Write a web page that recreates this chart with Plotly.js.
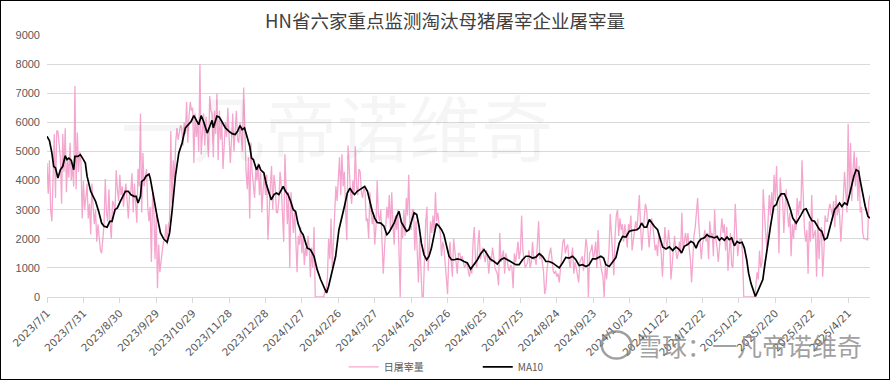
<!DOCTYPE html>
<html><head><meta charset="utf-8">
<script src="https://cdn.plot.ly/plotly-3.0.1.min.js"></script>
<style>body{margin:0;background:#fff;} #chart{width:888px;height:378px;border:1px solid #000;}</style>
</head><body><div id="chart"></div>
<script>
const startDate = '2023-07-01';
const seriesNames = ['日屠宰量', 'MA10'];
// daily slaughter volume, one value per consecutive day from startDate
const daily = [
4600,3550,4700,3000,2600,4200,5600,3400,5700,5700,
5200,4800,3200,5600,4300,5800,3600,4700,4100,5300,
4000,4500,3800,7250,3700,5650,4300,5000,4600,2700,
4000,3000,3400,3900,2700,3200,2150,3900,3100,2500,
3000,1900,2500,2100,1600,1500,2000,2500,4050,2900,
2600,3700,2500,2000,3300,3200,2900,4350,3700,3300,
4200,3500,3800,3100,3600,3900,3300,2700,3500,3600,
4250,2900,3900,3200,2550,4400,3800,6300,2900,4950,
3800,4100,4400,3100,2600,3100,1200,3600,3000,1300,
2800,300,1800,850,1300,1600,1900,1950,2500,1800,
2500,2600,5700,3200,4700,4000,5300,5800,5400,5600,
5900,5800,5200,6000,5600,6700,5300,6200,6700,6400,
6500,4600,6300,5500,6000,5000,8000,4900,5800,6300,
5200,6200,5600,4800,6900,6400,6300,4800,6400,5600,
7000,4700,6400,5400,6000,4400,5200,6000,5500,6500,
5500,4600,5400,6300,5000,5800,6400,5400,5300,6000,
5500,5000,7200,5700,4300,3700,4800,2700,5300,4300,
3900,3400,4400,4000,4600,3500,4300,2900,3700,4200,
3500,4200,1970,3100,3800,4500,3000,4200,3800,2900,
2900,3300,4300,3800,2900,1900,4900,3500,2500,3600,
1000,3600,2700,2200,3000,2100,850,2100,1800,2400,
1500,2100,1100,1700,1400,2100,1700,680,1700,1000,
2400,0,0,0,0,0,0,0,0,200,
200,650,2000,1300,2700,1000,2000,2500,3800,3300,
4300,4800,3500,4900,3800,4300,3000,1950,5200,4100,
3600,3200,4000,3500,5180,3800,3500,4400,4300,3600,
3400,3800,3600,2600,2700,2000,3600,2900,2500,2900,
1800,2400,4000,2800,2600,3000,2000,800,1600,2300,
3100,2700,3500,2300,3600,2500,1800,2800,2300,3000,
1700,0,2600,2000,3000,2100,3400,2800,4200,2500,
2300,3000,3000,1600,2600,1100,500,2000,1200,0,
0,1500,2600,3100,900,1800,2600,2200,2800,2200,
3600,2600,2900,2500,2200,1400,1900,1700,1100,600,
100,1400,1900,1200,700,2000,1500,1100,800,1500,
1500,1300,1400,1200,1000,1100,1200,900,700,1000,
800,1900,2400,1300,1000,1800,2300,1300,1500,1700,
1400,1200,1600,1300,800,1400,1200,1700,1400,1000,
900,800,400,2200,1200,1400,1600,800,1500,1300,
1000,900,1100,1000,300,1500,1200,1500,1900,1300,
1600,2800,1600,1300,1000,1100,1200,1600,1000,1200,
1900,1300,1300,1100,2000,2600,1300,1500,1200,900,
100,300,1000,1300,1500,1700,1200,900,800,900,
700,800,500,1000,1500,1900,2000,1500,1700,1800,
1300,1000,1400,1700,800,1200,1000,800,500,1200,
1300,1400,900,1500,2000,1700,0,1500,1600,1800,
1300,1500,1900,1000,2300,1400,1100,900,700,0,
1200,600,1100,1600,2850,2000,1200,750,2100,2800,
3000,2100,2700,2300,2500,1900,2500,2200,1700,2500,
2300,2800,1600,2000,2400,2600,2300,2800,3500,2400,
1600,2200,2600,3200,3000,2400,1700,2200,2700,2500,
1900,1600,1800,1400,2200,1900,1500,700,1900,2400,
1900,1700,2300,1900,600,1200,1800,2100,1600,1300,
1500,1900,1500,2900,1600,2000,2200,1800,2200,1700,
1300,500,1600,2100,2400,2900,3400,2500,2000,1300,
1800,2100,2300,1900,2200,1300,2600,2100,2200,1400,
3000,2000,1700,1200,1800,2200,2700,2200,2500,1600,
2400,900,1800,2200,1100,1000,1900,3200,2300,1400,
1800,2000,2000,1500,0,0,0,0,0,0,
0,0,0,0,400,850,600,1600,1000,1200,
3700,2700,2200,1700,2900,3500,2800,3600,2900,4200,
3300,4500,3100,1500,4100,3500,3400,2200,3100,3700,
2900,2400,2900,1400,2500,2000,2600,2300,3400,2800,
3300,3000,4700,3000,2300,1900,2300,800,2600,1900,
3500,2000,2200,2300,700,2700,1300,2200,2400,700,
1500,2800,2600,2600,3000,3200,3000,2800,3300,2400,
3500,2800,3200,2800,1900,2500,3400,4300,3600,2900,
5950,3500,5300,3300,4400,5000,3800,4800,3300,4500,
2900,3100,2200,2000,2000,2000,1950,3300,3500
];
// MA10: day offset from startDate, value
const maDay = [0,2,4,5.5,7,9,11,13,15,16.5,18,20,22,23,25.5,27.5,30,31.6,33,34,36,38,40,42.6,45,47,49.5,51.7,53.6,56,58,60.5,62.7,64.6,67,69,71.5,73.4,75,77,78,80,81.6,84,85,
88,90.7,93.5,96.2,99,101,103,105.8,108.6,111.3,114,116.8,118.7,121,122.9,125,127,129,132,134,136,137,140,142,144,147,150,152.5,155,157,159,160.8,162.7,165,167,168.5,170,172.6,174.5,176,178.7,180.6,182.8,184.7,187,189,191,193,194.6,196.5,198.5,200.7,202.9,204.8,206.7,209,211,
214.4,217,220,222.6,225.4,228,230.3,232,235,237.8,240.5,243.3,245,247.4,249.6,251.5,253.4,255.6,257.8,259.8,261.7,264,266,268,270,272,275,277.6,280,281.8,283.7,285.9,288,290,292,294,296.3,298.2,300,302.4,304.6,306.5,308.4,310.6,312.8,314.7,316.7,318.9,320.8,323,325,327,329,331.2,333.2,
335.4,338,341,343.6,346.3,349,351.8,354.6,357.3,360,362.3,365,368.3,371,373.8,376.6,379.3,382,386.2,389,391.7,394.5,397.2,400,402.7,405.5,408.2,411,413.7,416.5,419.2,422,424.7,427.4,430.2,433,435.7,438.4,441.2,444,446.7,449.4,452.2,456.3,
458.5,460.4,463.2,465.9,468.7,471.4,474.2,476.9,479.7,482.4,486,487.9,489.8,492,494,496.2,498,500.3,503,505.2,507.2,509.9,512.7,515.4,518.2,520.9,522.8,525,527.8,530.5,532.7,534.7,536.6,538.8,541.5,543.7,545.6,547.8,549.8,552,553.9,555.8,558,560.2,562,564,566.3,568.5,570.4,572.6,574.5,576.4,578,580,582.2,583.6,585.5,587.7,589.7,
591.6,593.8,596,598.7,600.7,602.6,604.8,607.5,609.7,612.5,614.4,617.2,619.1,621.3,623.5,625.4,628.2,630.1,632.3,634.5,636.4,638.3,640.5,642.7,644.7,646.6,648.8,651,652.9,654.8,657,659.2,661.2,663.1,664.7,666.6,668.6,670.3,672.2,674.1,676.3,678];
const maVal = [5520,5370,4950,4490,4430,4090,4370,4490,4850,4720,4770,4690,4370,4830,4830,4890,4720,4600,4150,3970,3630,3460,3290,2940,2540,2430,2400,2600,2600,3000,3060,3290,3460,3630,3630,3520,3460,3460,3230,3460,3970,4030,4150,4220,4090,
3340,2770,2200,1990,1880,2200,2940,4150,4950,5290,5810,5920,6030,6230,6090,5920,6230,6030,5630,5860,6070,5810,6210,6180,6030,5810,5690,5610,5580,5690,5890,5750,5810,5460,5180,4770,4720,4370,4550,4370,4260,3890,3570,3340,3520,3570,3520,3710,3800,3630,3520,3290,3000,2940,2540,2260,2140,
1680,1630,1400,940,600,370,140,370,940,1400,2310,2770,3110,3570,3740,3600,3520,3630,3690,3740,3800,3630,3230,2940,2710,2560,2540,2430,2140,2220,2370,2540,2770,2940,2560,2430,2260,2310,2540,2890,2830,2430,1850,1450,1280,1400,1680,2080,2520,2430,2310,2140,1760,1400,1280,
1280,1310,1280,1220,1170,960,1110,1280,1490,1630,1490,1310,1220,1130,1280,1340,1280,1220,1110,1110,1280,1400,1400,1340,1370,1490,1400,1220,1220,1170,1080,1000,1170,1360,1340,1400,1280,1080,1110,1050,1110,1310,1310,1400,
1340,1110,1050,1220,1360,1850,2080,2060,2260,2290,2310,2370,2540,2400,2400,2660,2540,2430,2310,1970,1720,1650,1720,1600,1720,1630,1510,1740,1800,1910,1850,1680,1880,1990,2030,2140,2080,2060,2030,2080,1950,2030,1950,2060,1970,2030,1760,1910,1850,1880,1680,1280,820,460,140,20,195,390,600,
1170,1850,2430,3110,3170,3400,3540,3540,3340,3000,2710,2540,2660,2830,3000,3030,2770,2630,2600,2430,2310,2260,1970,2030,2370,2710,3000,3110,3230,3110,3230,3170,3570,3920,4150,4370,4320,3920,3460,3110,2770,2710];
const tickLabels = ['2023/7/1','2023/7/31','2023/8/30','2023/9/29','2023/10/29','2023/11/28','2023/12/28','2024/1/27','2024/2/26','2024/3/27','2024/4/26','2024/5/26','2024/6/25','2024/7/25','2024/8/24','2024/9/23','2024/10/23','2024/11/22','2024/12/22','2025/1/21','2025/2/20','2025/3/22','2025/4/21'];

const t0 = Date.parse(startDate + 'T00:00:00Z');
function dayToDate(d){
  const t = t0 + Math.round(d*24)*3600000;
  return new Date(t).toISOString().slice(0,13).replace('T',' ') + ':00';
}
function labelToDate(s){
  const p = s.split('/');
  return p[0] + '-' + String(p[1]).padStart(2,'0') + '-' + String(p[2]).padStart(2,'0');
}
const dailyX = daily.map((v,i)=>dayToDate(i));
const maX = maDay.map(dayToDate);
const tickVals = tickLabels.map(labelToDate);

const traces = [
  {x: dailyX, y: daily, type:'scatter', mode:'lines', name: seriesNames[0],
   line:{color:'#F4A6CE', width:1.3}},
  {x: maX, y: maVal, type:'scatter', mode:'lines', name: seriesNames[1],
   line:{color:'#000000', width:1.7}}
];

// plot area in page px: left 47, right 870, top 35, bottom 297
const layout = {
  width: 888, height: 378,
  margin: {l:46, r:19, t:34, b:82},
  paper_bgcolor:'#ffffff', plot_bgcolor:'#ffffff',
  font: {family:'"Liberation Sans", Arial, sans-serif', color:'#595959'},
  title: {text:'HN省六家重点监测淘汰母猪屠宰企业屠宰量', xref:'container', x:0.5, xanchor:'center',
          yref:'container', y:0.947, yanchor:'middle',
          font:{family:'"Noto Sans CJK SC", sans-serif', size:18.5, color:'#404040'}},
  xaxis: {type:'date', range:[dayToDate(0), dayToDate(daily.length-1)],
          tickmode:'array', tickvals: tickVals, ticktext: tickLabels, tickangle:-45,
          tickfont:{family:'"DejaVu Sans", sans-serif', size:10.5, color:'#595959'},
          showline:true, linecolor:'#d9d9d9', linewidth:1, ticks:'outside', ticklen:5,
          tickcolor:'#d9d9d9', showgrid:false, zeroline:false, fixedrange:true, automargin:false},
  yaxis: {range:[0,9000], dtick:1000, tick0:0, showgrid:true, gridcolor:'#d9d9d9', gridwidth:1,
          zeroline:false, showline:false, ticks:'', ticklabelstandoff:6,
          tickfont:{family:'"Liberation Sans", Arial, sans-serif', size:11, color:'#595959'},
          fixedrange:true, automargin:false},
  showlegend:true,
  legend: {orientation:'h', xref:'container', yref:'container', x:0.386, xanchor:'left', y:0.032, yanchor:'middle',
           font:{family:'"Noto Sans CJK SC", sans-serif', size:10, color:'#595959'},
           entrywidth:89, entrywidthmode:'pixels', bgcolor:'rgba(0,0,0,0)'},
  annotations: [
    {text:'一凡帝诺维奇', xref:'paper', yref:'paper', x:0.352, y:0.66, xanchor:'center', yanchor:'middle',
     showarrow:false, font:{family:'"Noto Sans CJK SC", sans-serif', size:72, color:'rgba(0,0,0,0.04)'}},
    {text:'雪球：一凡帝诺维奇', xref:'paper', yref:'paper', x:0.854, y:-0.183, xanchor:'center', yanchor:'middle',
     showarrow:false, font:{family:'"Noto Sans CJK SC", sans-serif', size:25, color:'rgba(135,135,135,0.8)'}}
  ],
  shapes: [
    {type:'circle', xref:'paper', yref:'paper', x0:0.674, x1:0.71, y0:-0.235, y1:-0.132,
     line:{color:'rgba(135,135,135,0.8)', width:2.5}, fillcolor:'rgba(0,0,0,0)'}
  ]
};
Plotly.newPlot('chart', traces, layout, {staticPlot:true, displayModeBar:false});
</script></body></html>
